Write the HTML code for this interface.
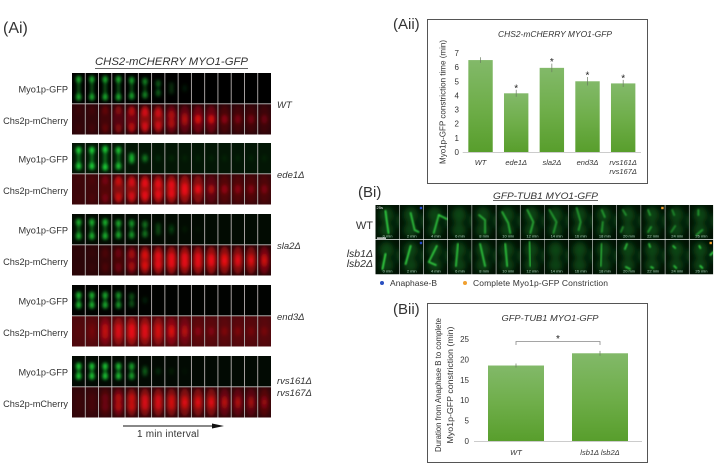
<!DOCTYPE html>
<html lang="en">
<head>
<meta charset="utf-8">
<title>Myo1p-GFP constriction figure</title>
<style>
html,body{margin:0;padding:0;background:#fff;width:721px;height:471px;overflow:hidden}
svg#fig{display:block;font-family:"Liberation Sans",Arial,sans-serif;filter:blur(0.35px)}
</style>
</head>
<body>
<svg id="fig" xmlns="http://www.w3.org/2000/svg" width="721" height="471" viewBox="0 0 721 471">
<defs>
<filter id="b1" x="-60%" y="-60%" width="220%" height="220%"><feGaussianBlur stdDeviation="1.5"/></filter>
<filter id="b2" x="-50%" y="-50%" width="200%" height="200%"><feGaussianBlur stdDeviation="0.85"/></filter>
<filter id="b3" x="-80%" y="-80%" width="260%" height="260%"><feGaussianBlur stdDeviation="3"/></filter>
<linearGradient id="barFill" x1="0" y1="0" x2="0" y2="1"><stop offset="0" stop-color="#82b969"/><stop offset="0.5" stop-color="#6fae4a"/><stop offset="1" stop-color="#589e2c"/></linearGradient>
</defs>

<text x="3" y="33" font-size="16" fill="#333">(Ai)</text>
<text x="393" y="29" font-size="15" fill="#333">(Aii)</text>
<text x="358" y="197" font-size="15" fill="#333">(Bi)</text>
<text x="393" y="314" font-size="15" fill="#333">(Bii)</text>

<g id="ai">
<text x="95" y="65" font-size="11" font-style="italic" fill="#333" textLength="153" lengthAdjust="spacingAndGlyphs">CHS2-mCHERRY MYO1-GFP</text>
<line x1="95" y1="68.5" x2="248" y2="68.5" stroke="#333" stroke-width="0.8"/>
<g id="aiCells"></g>
<g id="aiLabels"></g>
<text x="277" y="108" font-size="9.5" font-style="italic" fill="#333">WT</text>
<text x="277" y="178" font-size="9.5" font-style="italic" fill="#333">ede1Δ</text>
<text x="277" y="249" font-size="9.5" font-style="italic" fill="#333">sla2Δ</text>
<text x="277" y="320" font-size="9.5" font-style="italic" fill="#333">end3Δ</text>
<text x="277" y="384" font-size="9.5" font-style="italic" fill="#333">rvs161Δ</text>
<text x="277" y="396" font-size="9.5" font-style="italic" fill="#333">rvs167Δ</text>
<line x1="123" y1="426" x2="214" y2="426" stroke="#111" stroke-width="1"/>
<polygon points="212,423.5 224,426 212,428.5" fill="#111"/>
<text x="137" y="437" font-size="10" fill="#333" textLength="62">1 min interval</text>
</g>

<g id="aii">
<rect x="427.5" y="19.5" width="220" height="164" fill="#fff" stroke="#555" stroke-width="1"/>
<text x="498" y="37" font-size="8" font-style="italic" fill="#333" textLength="114" lengthAdjust="spacingAndGlyphs">CHS2-mCHERRY MYO1-GFP</text>
<text transform="translate(445.5,102) rotate(-90)" font-size="8" fill="#333" text-anchor="middle" textLength="124" lengthAdjust="spacingAndGlyphs">Myo1p-GFP constriction time (min)</text>
<g id="aiiPlot"></g>
</g>

<g id="bi">
<text x="493" y="199" font-size="9.5" font-style="italic" fill="#333" textLength="105" lengthAdjust="spacingAndGlyphs">GFP-TUB1 MYO1-GFP</text>
<line x1="493" y1="200.5" x2="598" y2="200.5" stroke="#333" stroke-width="0.7"/>
<text x="373" y="229" font-size="11" fill="#333" text-anchor="end">WT</text>
<text x="373" y="257" font-size="10.5" font-style="italic" fill="#333" text-anchor="end">lsb1Δ</text>
<text x="373" y="267" font-size="10.5" font-style="italic" fill="#333" text-anchor="end">lsb2Δ</text>
<g id="biCells"></g>
<rect x="377" y="237.5" width="9" height="1.2" fill="#fff"/>
<circle cx="382" cy="283" r="2" fill="#2a4fc0"/>
<text x="390" y="286" font-size="8.5" fill="#333" textLength="47">Anaphase-B</text>
<circle cx="465" cy="283" r="2" fill="#f0a030"/>
<text x="473" y="286" font-size="8.5" fill="#333" textLength="135">Complete Myo1p-GFP Constriction</text>
</g>

<g id="bii">
<rect x="427.5" y="303.5" width="220" height="159" fill="#fff" stroke="#555" stroke-width="1"/>
<text x="501.5" y="321" font-size="8" font-style="italic" fill="#333" textLength="97" lengthAdjust="spacingAndGlyphs">GFP-TUB1 MYO1-GFP</text>
<text transform="translate(441,385) rotate(-90)" font-size="8" fill="#333" text-anchor="middle" textLength="134" lengthAdjust="spacingAndGlyphs">Duration from Anaphase B to complete</text>
<text transform="translate(453,385) rotate(-90)" font-size="8" fill="#333" text-anchor="middle" textLength="117" lengthAdjust="spacingAndGlyphs">Myo1p-GFP constriction (min)</text>
<g id="biiPlot"></g>
</g>
</svg>

<script>
// ---- Chart Aii data ----
const aiiCategories = [["WT"], ["ede1Δ"], ["sla2Δ"], ["end3Δ"], ["rvs161Δ", "rvs167Δ"]];
const aiiValues = [6.5, 4.15, 5.95, 5.0, 4.85];
const aiiErrors = [0.2, 0.25, 0.3, 0.3, 0.25];
const aiiSignificant = [false, true, true, true, true];
const aiiTicks = [0, 1, 2, 3, 4, 5, 6, 7];

// ---- Chart Bii data ----
const biiCategories = ["WT", "lsb1Δ lsb2Δ"];
const biiValues = [18.5, 21.5];
const biiErrors = [0.5, 0.6];
const biiTicks = [0, 5, 10, 15, 20, 25];

// ---- Microscopy strip intensities (Ai), 15 frames each ----
const aiStrains = ["wt", "ede1", "sla2", "end3", "rvs"];
const aiRowTops = [73, 143, 214, 285, 356];
const gfpLevels = [
  [.75,.75,.75,.75,.7,.55,.35,.15,.05,0,0,0,0,0,0],
  [1,1,1,.9,.7,.3,.05,.04,.03,.03,.03,.03,.03,.03,.03],
  [.8,.8,.8,.75,.65,.45,.22,.14,.03,.02,0,0,0,0,0],
  [.85,.8,.75,.65,.3,.06,0,0,0,0,0,0,0,0,0],
  [.95,.9,.9,.85,.7,.25,.07,.04,.02,0,0,0,0,0,0]
];
const gfpSeparation = [
  [9,9,9,9,8,7,5,3,1,0,0,0,0,0,0],
  [8,8,9,8,2,1,0,0,0,0,0,0,0,0,0],
  [7,7,7,6,6,5,3,2,0,0,0,0,0,0,0],
  [5,5,5,5,4,0,0,0,0,0,0,0,0,0,0],
  [5,5,5,5,5,2,0,0,0,0,0,0,0,0,0]
];
const gfpBackground = ["#000", "#031605", "#020b02", "#010301", "#020a03"];
const mchLevels = [
  [.05,.08,.2,.35,.6,.8,.75,.55,.45,.6,.55,.25,.2,.18,.15],
  [.03,.07,.25,.7,.8,.95,.95,.95,.9,.75,.35,.25,.22,.2,.18],
  [.02,.04,.12,.25,.5,.85,.95,.95,.9,.9,.9,.85,.75,.7,.6],
  [.04,.15,.55,.75,.9,.8,.7,.65,.4,.18,.15,.14,.14,.12,.12],
  [.04,.08,.22,.55,.7,.75,.75,.7,.7,.7,.7,.45,.4,.35,.3]
];
const mchSeparation = [
  [9,9,9,9,8,7,6,4,2,0,0,0,0,0,0],
  [9,9,9,8,7,6,5,4,2,0,0,0,0,0,0],
  [7,7,7,7,6,5,4,3,3,3,2,2,2,2,2],
  [3,3,3,3,3,3,3,2,2,0,0,0,0,0,0],
  [4,4,4,4,4,3,3,3,2,2,2,2,2,2,2]
];
const mchBackground = ["#2c050a", "#3a060a", "#2a0508", "#4e080d", "#32060a"];
const rowLabels = ["Myo1p-GFP", "Chs2p-mCherry"];

// ---- Microscopy spindle traces (Bi), 14 frames per row ----
const timeLabels = ["0 min","2 min","4 min","6 min","8 min","10 min","12 min","14 min","16 min","18 min","20 min","22 min","24 min","26 min"];
const spindlesTop = [
  ["10,6 11,14 13,28"],["11,8 15,25 19,27"],["15,10 10,28","15,10 23,14"],["12,5 12,17 12,28"],
  ["7,10 13,15 13,28"],["6,7 12,18 14,28"],["7,5 13,17 10,28"],["5,5 12,17 9,28"],["8,3 12,17 10,25"],
  ["9,5 12,12","10,17 9,27"],["6,5 9,10","6,22 4,27"],["7,5 9,10","10,22 7,27"],["7,5 9,10","10,21 6,27"],["9,5 9,10","13,25 7,30"]
];
const spindlesBottom = [
  ["10,14 7,29"],["11,6 6,24"],["13,6 5,22 12,25"],["10,4 8,26"],["8,4 13,26"],["9,4 11,26"],["9,2 10,26"],
  ["9,4 9,27"],["9,2 9,26"],["9,4 8,26"],["10,4 8,9","9,27 13,29"],["8,4 9,7","10,27 12,28"],["8,6 10,8","9,26 11,28"],["10,6 11,8","11,26 13,28","21,15 24,12"]
];
const spindleBrightTop = [.9,.8,.8,.7,.65,.7,.65,.55,.55,.55,.5,.55,.45,.55];
const spindleBrightBottom = [.95,.9,.85,.8,.8,.8,.7,.7,.65,.65,.75,.8,.8,.9];
const anaphaseFrames = [1, 1];
const constrictionFrames = [11, 13];

// ---- helpers ----
const NS = "http://www.w3.org/2000/svg";
function mk(parent, tag, attrs, text) {
  const n = document.createElementNS(NS, tag);
  for (const k in attrs) n.setAttribute(k, attrs[k]);
  if (text !== undefined) n.textContent = text;
  parent.appendChild(n);
  return n;
}

// ---- Ai strips ----
const aiCells = document.getElementById("aiCells");
const aiLabels = document.getElementById("aiLabels");
const cellW = 199 / 15;
aiStrains.forEach((strain, s) => {
  const top = aiRowTops[s];
  for (let f = 0; f < 15; f++) {
    const x = 72 + f * cellW;
    const gsv = mk(aiCells, "svg", {x: x, y: top, width: cellW, height: 30.5});
    
    
    mk(gsv, "rect", {width: cellW, height: 31, fill: gfpBackground[s]});
    const gv = gfpLevels[s][f];
    const gg = mk(gsv, "g", {filter: "url(#b1)"});
    const c = cellW / 2, m = 15.2, d = gfpSeparation[s][f];
    if (gv > 0) {
      mk(gg, "rect", {x: c - 1.5, y: m - d, width: 3, height: 2 * d + .5, fill: "#14a82a", opacity: gv * .75});
      mk(gg, "ellipse", {cx: c, cy: m - d, rx: 2.6, ry: 3.6, fill: "#1fe03a", opacity: gv});
      mk(gg, "ellipse", {cx: c, cy: m + d, rx: 2.6, ry: 3.6, fill: "#1fe03a", opacity: gv});
    }
    const rsv = mk(aiCells, "svg", {x: x, y: top + 31, width: cellW, height: 30.5});
    
    
    mk(rsv, "rect", {width: cellW, height: 31, fill: mchBackground[s]});
    const rv = mchLevels[s][f], rd = mchSeparation[s][f];
    const rg = mk(rsv, "g", {filter: "url(#b1)"});
    mk(rg, "ellipse", {cx: c, cy: m, rx: 5.5, ry: 14, fill: "#c00c14", opacity: rv * .8});
    mk(rg, "ellipse", {cx: c, cy: m - rd, rx: 3, ry: 4.6, fill: "#f81014", opacity: rv * .85});
    mk(rg, "ellipse", {cx: c, cy: m + rd, rx: 3, ry: 4.6, fill: "#f81014", opacity: rv * .85});
    if (f > 0) {
      const sep = mk(aiCells, "line", {x1: x, x2: x, y1: top, y2: top + 61.5, stroke: "#b5b0b0", "stroke-width": .9});
      
      
    }
  }
  const hsep = mk(aiCells, "line", {x1: 72, x2: 271, y1: top + 30.8, y2: top + 30.8, stroke: "#c8c4c4", "stroke-width": .9});
  
  
  rowLabels.forEach((lab, i) => {
    const t = mk(aiLabels, "text", {x: 68, y: top + 19.5 + i * 31.5, "font-size": 9.2, fill: "#333", "text-anchor": "end"}, lab);
    
    
  });
});

// ---- Bi strips ----
const biCells = document.getElementById("biCells");
const frameW = 338 / 14;
[[205, spindlesTop, spindleBrightTop], [240, spindlesBottom, spindleBrightBottom]].forEach((row, r) => {
  for (let f = 0; f < 14; f++) {
    const x = 375.5 + f * frameW;
    const sv = mk(biCells, "svg", {x: x, y: row[0], width: frameW - .4, height: 34.3});
    
    
    mk(sv, "rect", {width: frameW, height: 35, fill: "#011204"});
    const glow = mk(sv, "g", {filter: "url(#b3)"});
    mk(glow, "ellipse", {cx: 11, cy: 10, rx: 7, ry: 8, fill: "#117020", opacity: .55});
    mk(glow, "ellipse", {cx: 11, cy: 25, rx: 7, ry: 7, fill: "#117020", opacity: .5});
    mk(glow, "ellipse", {cx: 24, cy: 16, rx: 3, ry: 7, fill: "#15802a", opacity: .45});
    const g = mk(sv, "g", {filter: "url(#b2)"});
    row[1][f].forEach(pts => {
      const pl = mk(g, "polyline", {points: pts, fill: "none", stroke: "#35dc45", "stroke-width": 1.9, "stroke-linecap": "round", "stroke-linejoin": "round", opacity: row[2][f]});
      
      
    });
    const t = mk(sv, "text", {x: frameW / 2, y: 32.5, "font-size": 4, fill: "#dfe", "text-anchor": "middle", opacity: .75}, timeLabels[f]);
    
    
    if (anaphaseFrames[r] === f) {
      const a = mk(sv, "rect", {x: frameW - 4, y: 1.8, width: 2.4, height: 2.4, fill: "#2448c8"});
      
      
    }
    if (constrictionFrames[r] === f) {
      const o = mk(sv, "rect", {x: frameW - 4, y: 1.8, width: 2.4, height: 2.4, fill: "#f0a030"});
      
      
    }
  }
});
const stamp = mk(biCells, "text", {x: 376.5, y: 209, "font-size": 4, fill: "#eee"}, "25s");



// ---- Chart Aii ----
const aiiPlot = document.getElementById("aiiPlot");
const aiiY0 = 152, aiiY7 = 53, aiiLeft = 462.7, aiiRight = 641;
const aiiBand = (aiiRight - aiiLeft) / aiiValues.length;
const aiiY = v => aiiY0 - v * (aiiY0 - aiiY7) / 7;
const aiiX = i => aiiLeft + aiiBand * (i + .5);
aiiTicks.forEach(t => {
  const label = mk(aiiPlot, "text", {x: 459, y: aiiY(t) + 3, "font-size": 8, fill: "#333", "text-anchor": "end"}, t);
  
  
});
const aiiAxis = mk(aiiPlot, "line", {x1: aiiLeft, x2: aiiRight, y1: aiiY0 + .5, y2: aiiY0 + .5, stroke: "#ccc", "stroke-width": 1});


aiiValues.forEach((v, i) => {
  const cx = aiiX(i);
  const bar = mk(aiiPlot, "rect", {x: cx - 12.2, y: aiiY(v), width: 24.4, height: aiiY0 - aiiY(v), fill: "url(#barFill)"});
  
  
  const err = mk(aiiPlot, "line", {x1: cx, x2: cx, y1: aiiY(v - aiiErrors[i]), y2: aiiY(v + aiiErrors[i]), stroke: "#6a7a60", "stroke-width": .7});
  
  
  if (aiiSignificant[i]) {
    const star = mk(aiiPlot, "text", {x: cx, y: aiiY(v + aiiErrors[i]) + 1.5, "font-size": 10, fill: "#222", "text-anchor": "middle"}, "*");
    
    
  }
  aiiCategories[i].forEach((line, j) => {
    const t = mk(aiiPlot, "text", {x: cx, y: 165 + j * 9, "font-size": 7.5, "font-style": "italic", fill: "#333", "text-anchor": "middle"}, line);
    
    
  });
});

// ---- Chart Bii ----
const biiPlot = document.getElementById("biiPlot");
const biiY0 = 441, biiYTop = 339, biiLeft = 474, biiRight = 642;
const biiBand = (biiRight - biiLeft) / biiValues.length;
const biiMax = biiTicks[biiTicks.length - 1];
const biiY = v => biiY0 - v * (biiY0 - biiYTop) / biiMax;
const biiX = i => biiLeft + biiBand * (i + .5);
biiTicks.forEach(t => {
  const label = mk(biiPlot, "text", {x: 469, y: biiY(t) + 3, "font-size": 8, fill: "#333", "text-anchor": "end"}, t);
  
  
});
const biiAxis = mk(biiPlot, "line", {x1: biiLeft, x2: biiRight, y1: biiY0 + .5, y2: biiY0 + .5, stroke: "#ccc", "stroke-width": 1});


biiValues.forEach((v, i) => {
  const cx = biiX(i);
  const bar = mk(biiPlot, "rect", {x: cx - 28, y: biiY(v), width: 56, height: biiY0 - biiY(v), fill: "url(#barFill)"});
  
  
  const err = mk(biiPlot, "line", {x1: cx, x2: cx, y1: biiY(v - biiErrors[i]), y2: biiY(v + biiErrors[i]), stroke: "#6a7a60", "stroke-width": .7});
  
  
  const t = mk(biiPlot, "text", {x: cx, y: 455, "font-size": 7.5, "font-style": "italic", fill: "#333", "text-anchor": "middle"}, biiCategories[i]);
  
  
});
const bracket = mk(biiPlot, "polyline", {points: biiX(0) + ",345 " + biiX(0) + ",341.5 " + biiX(1) + ",341.5 " + biiX(1) + ",345", fill: "none", stroke: "#888", "stroke-width": .8});


const biiStar = mk(biiPlot, "text", {x: (biiX(0) + biiX(1)) / 2, y: 342, "font-size": 10, fill: "#222", "text-anchor": "middle"}, "*");


</script>
</body>
</html>
